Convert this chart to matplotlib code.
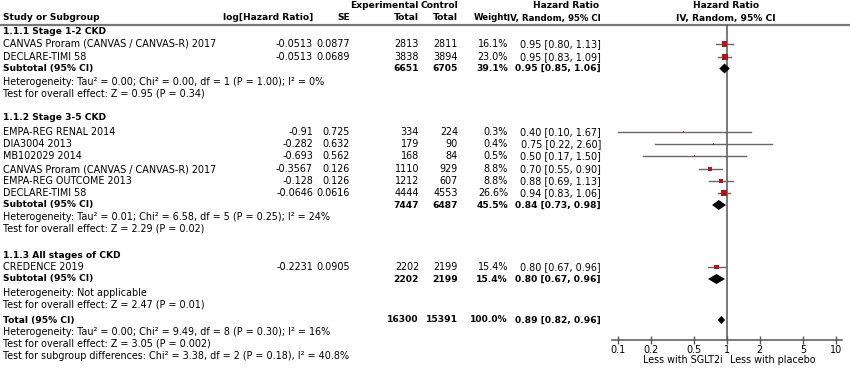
import numpy as np
import matplotlib
matplotlib.use('Agg')
import matplotlib.pyplot as plt

plt.rcParams['font.family'] = ['DejaVu Sans']

# data
group_titles = ['1.1.1 Stage 1-2 CKD', '1.1.2 Stage 3-5 CKD', '1.1.3 All stages of CKD']
study_names = ['CANVAS Proram (CANVAS / CANVAS-R) 2017', 'DECLARE-TIMI 58',
               'EMPA-REG RENAL 2014', 'DIA3004 2013', 'MB102029 2014',
               'CANVAS Proram (CANVAS / CANVAS-R) 2017', 'EMPA-REG OUTCOME 2013',
               'DECLARE-TIMI 58', 'CREDENCE 2019']
study_group = [0, 0, 1, 1, 1, 1, 1, 1, 2]
log_hr = ['-0.0513', '-0.0513', '-0.91', '-0.282', '-0.693', '-0.3567', '-0.128', '-0.0646', '-0.2231']
se = ['0.0877', '0.0689', '0.725', '0.632', '0.562', '0.126', '0.126', '0.0616', '0.0905']
exp_total = [2813, 3838, 334, 179, 168, 1110, 1212, 4444, 2202]
ctrl_total = [2811, 3894, 224, 90, 84, 929, 607, 4553, 2199]
weight = [16.1, 23.0, 0.3, 0.4, 0.5, 8.8, 8.8, 26.6, 15.4]
hr = [0.95, 0.95, 0.40, 0.75, 0.50, 0.70, 0.88, 0.94, 0.80]
hr_lo = [0.80, 0.83, 0.10, 0.22, 0.17, 0.55, 0.69, 0.83, 0.67]
hr_hi = [1.13, 1.09, 1.67, 2.60, 1.50, 0.90, 1.13, 1.06, 0.96]

sub_exp = [6651, 7447, 2202]
sub_ctrl = [6705, 6487, 2199]
sub_weight = [39.1, 45.5, 15.4]
sub_hr = [0.95, 0.84, 0.80]
sub_lo = [0.85, 0.73, 0.67]
sub_hi = [1.06, 0.98, 0.96]
het_text = ['Heterogeneity: Tau² = 0.00; Chi² = 0.00, df = 1 (P = 1.00); I² = 0%',
            'Heterogeneity: Tau² = 0.01; Chi² = 6.58, df = 5 (P = 0.25); I² = 24%',
            'Heterogeneity: Not applicable']
effect_text = ['Test for overall effect: Z = 0.95 (P = 0.34)',
               'Test for overall effect: Z = 2.29 (P = 0.02)',
               'Test for overall effect: Z = 2.47 (P = 0.01)']

total_exp, total_ctrl, total_weight = 16300, 15391, 100.0
total_hr, total_lo, total_hi = 0.89, 0.82, 0.96
total_notes = ['Heterogeneity: Tau² = 0.00; Chi² = 9.49, df = 8 (P = 0.30); I² = 16%',
               'Test for overall effect: Z = 3.05 (P = 0.002)',
               'Test for subgroup differences: Chi² = 3.38, df = 2 (P = 0.18), I² = 40.8%']
x_ticks = [0.1, 0.2, 0.5, 1, 2, 5, 10]
x_ticklabels = ['0.1', '0.2', '0.5', '1', '2', '5', '10']

# layout (pixel rows)
title_y = [32, 118, 255]
study_y = [44, 57, 132, 144, 156, 169, 181, 193, 267]
sub_y = [68.5, 205, 279]
het_y = [82, 217, 293]
eff_y = [94, 228.5, 304.5]
total_y = 320
notes_y = [332, 344, 356]

W, H = 850, 372
FS = 6.9
FSB = 6.6
RED = '#b3141c'
col_name, col_lhr, col_se, col_exp, col_ctl, col_w, col_ci = 3, 313, 350, 419, 458, 508, 601

fig = plt.figure(figsize=(W / 100, H / 100), dpi=100)
ax = fig.add_axes([0, 0, 1, 1])
ax.set_xlim(0, W)
ax.set_ylim(H, 0)
ax.axis('off')


def txt(x, y, s, ha='left', bold=False, size=None):
    if size is None:
        size = FSB if bold else FS
    ax.text(x, y, s, ha=ha, va='center', fontsize=size,
            fontweight='bold' if bold else 'normal', color='black')


def ci(h, l, u):
    return f'{h:.2f} [{l:.2f}, {u:.2f}]'


# header
txt(col_exp, 6, 'Experimental', 'right', True)
txt(col_ctl, 6, 'Control', 'right', True)
txt(566, 6, 'Hazard Ratio', 'center', True)
txt(726, 6, 'Hazard Ratio', 'center', True)
txt(col_name, 18, 'Study or Subgroup', bold=True)
txt(col_lhr, 18, 'log[Hazard Ratio]', 'right', True)
txt(col_se, 18, 'SE', 'right', True)
txt(col_exp, 18, 'Total', 'right', True)
txt(col_ctl, 18, 'Total', 'right', True)
txt(col_w, 18, 'Weight', 'right', True, 6.2)
txt(col_ci, 18, 'IV, Random, 95% CI', 'right', True, 6.2)
txt(726, 18, 'IV, Random, 95% CI', 'center', True)
ax.plot([0, W], [24.5, 24.5], color='#777777', lw=1.6, solid_capstyle='butt')

# table rows
for g in range(3):
    txt(col_name, title_y[g], group_titles[g], bold=True)
    txt(col_name, sub_y[g], 'Subtotal (95% CI)', bold=True)
    txt(col_exp, sub_y[g], str(sub_exp[g]), 'right', True)
    txt(col_ctl, sub_y[g], str(sub_ctrl[g]), 'right', True)
    txt(col_w, sub_y[g], f'{sub_weight[g]:.1f}%', 'right', True)
    txt(col_ci, sub_y[g], ci(sub_hr[g], sub_lo[g], sub_hi[g]), 'right', True)
    txt(col_name, het_y[g], het_text[g])
    txt(col_name, eff_y[g], effect_text[g])

for i, name in enumerate(study_names):
    y = study_y[i]
    txt(col_name, y, name)
    txt(col_lhr, y, log_hr[i], 'right')
    txt(col_se, y, se[i], 'right')
    txt(col_exp, y, str(exp_total[i]), 'right')
    txt(col_ctl, y, str(ctrl_total[i]), 'right')
    txt(col_w, y, f'{weight[i]:.1f}%', 'right')
    txt(col_ci, y, ci(hr[i], hr_lo[i], hr_hi[i]), 'right')

txt(col_name, total_y, 'Total (95% CI)', bold=True)
txt(col_exp, total_y, str(total_exp), 'right', True)
txt(col_ctl, total_y, str(total_ctrl), 'right', True)
txt(col_w, total_y, f'{total_weight:.1f}%', 'right', True)
txt(col_ci, total_y, ci(total_hr, total_lo, total_hi), 'right', True)
for s, y in zip(total_notes, notes_y):
    txt(col_name, y, s)

# forest panel
axis_y = 340
left_px, right_px = 612, 842
fax = fig.add_axes([left_px / W, (H - axis_y) / H, (right_px - left_px) / W, axis_y / H])
fax.patch.set_alpha(0)
fax.set_xscale('log')
fax.set_xlim(10 ** (-1 - 6 / 109), 10 ** (1 + 6 / 109))
fax.set_ylim(axis_y, 0)
for sp in ['top', 'left', 'right']:
    fax.spines[sp].set_visible(False)
fax.spines['bottom'].set_color('#555555')
fax.spines['bottom'].set_linewidth(1.1)
fax.set_yticks([])
fax.set_xticks(x_ticks)
fax.set_xticklabels(x_ticklabels, fontsize=FS)
fax.minorticks_off()
fax.tick_params(axis='x', direction='inout', length=6, width=1, color='#555555', pad=0.5)
fax.vlines(1, 24.5, axis_y, color='#555555', lw=1.1)

px2pt = 72 / 100
for i in range(len(hr)):
    y = study_y[i]
    fax.plot([hr_lo[i], hr_hi[i]], [y, y], color='#666666', lw=1.0, zorder=2)
    side = max(1.3, 1.25 * np.sqrt(weight[i]))
    fax.scatter([hr[i]], [y], marker='s', s=(side * px2pt) ** 2, color=RED,
                edgecolors='none', zorder=3)


def diamond(h, l, u, y, half):
    fax.fill([l, h, u, h], [y, y - half, y, y + half], color='black', lw=0, zorder=3)


for g in range(3):
    diamond(sub_hr[g], sub_lo[g], sub_hi[g], sub_y[g], 5)
diamond(total_hr, total_lo, total_hi, total_y, 4)

txt(723, 360, 'Less with SGLT2i', 'right')
txt(730, 360, 'Less with placebo', 'left')

fig.savefig('out.png', dpi=100)
